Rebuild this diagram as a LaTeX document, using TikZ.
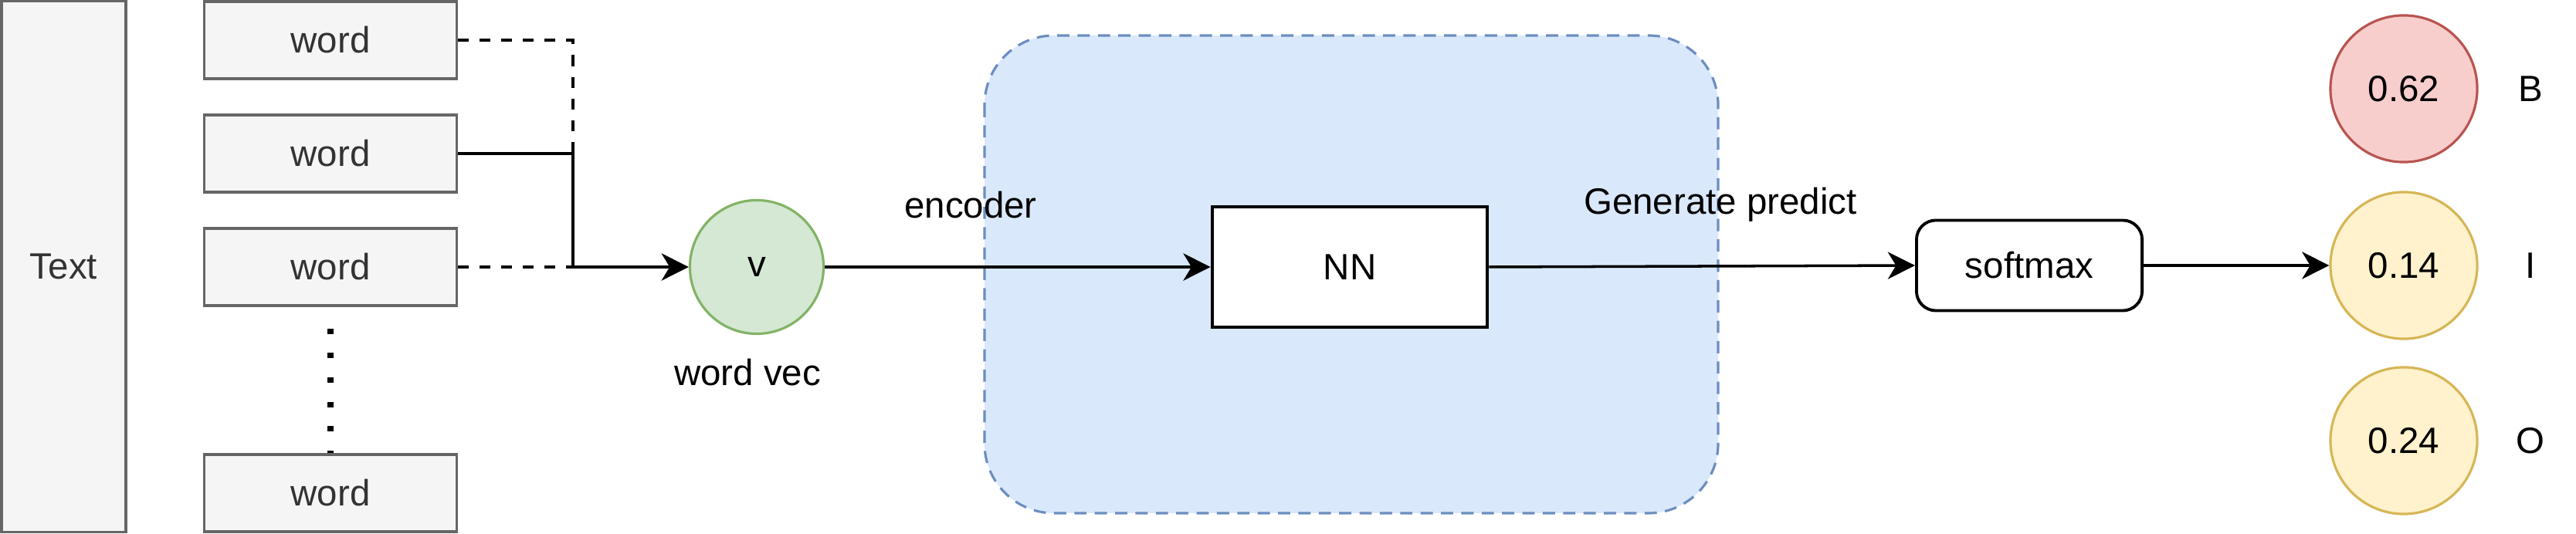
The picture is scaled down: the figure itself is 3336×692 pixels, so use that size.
\documentclass[tikz,border=0pt]{standalone}
\usepackage{fontspec}
\setmainfont{Liberation Sans}
\usetikzlibrary{arrows.meta}
\definecolor{greyfill}{HTML}{F5F5F5}
\definecolor{greyline}{HTML}{666666}
\definecolor{greytext}{HTML}{333333}
\definecolor{bluefill}{HTML}{DAE8FC}
\definecolor{blueline}{HTML}{6C8EBF}
\definecolor{greenfill}{HTML}{D5E8D4}
\definecolor{greenline}{HTML}{82B366}
\definecolor{redfill}{HTML}{F8CECC}
\definecolor{redline}{HTML}{B85450}
\definecolor{yellowfill}{HTML}{FFF2CC}
\definecolor{yellowline}{HTML}{D6B656}
\begin{document}
\begin{tikzpicture}[x=0.01cm, y=-0.01cm, >={Stealth[length=10pt,width=10pt,inset=3pt]},
  font=\fontsize{13.5}{16}\selectfont,
  wordbox/.style={draw=greyline, fill=greyfill, text=greytext, line width=0.9pt,
    minimum width=3.26cm, minimum height=1cm, inner sep=0pt},
  prob/.style={circle, line width=0.9pt, minimum size=1.9cm, inner sep=0pt},
  flow/.style={line width=1pt}]
\useasboundingbox (0,0) rectangle (3336,692);
% Input
\node[wordbox, minimum width=1.61cm, minimum height=6.87cm] (text) at (82.5,345.5) {Text};
\node[wordbox] (w1) at (428,52) {word};
\node[wordbox] (w2) at (428,199) {word};
\node[wordbox] (w3) at (428,346) {word};
\node[wordbox] (w4) at (428,639) {word};
\draw[line width=2pt, dash pattern=on 2pt off 7pt, shorten <=0.28cm] (w3.south) -- (w4.north);
% Word vector
\coordinate (vin) at (742,346);
\node[circle, draw=greenline, fill=greenfill, line width=0.9pt, minimum size=1.73cm, inner sep=0pt] (v) at (980,346) {v};
\node (vlab) at (968,483) {word vec};
\draw[flow, dash pattern=on 4pt off 4pt] (w1.east) -| (vin);
\draw[flow, dash pattern=on 4pt off 4pt] (w3.east) -- (vin);
\draw[flow] (w2.east) -| (vin);
\draw[flow, ->] (vin) -- (v);
% Encoder
\draw[blueline, fill=bluefill, line width=0.9pt, dash pattern=on 4.5pt off 3pt, rounded corners=0.9cm]
  (1275,46) rectangle (2225,665);
\node[draw, fill=white, line width=1.3pt, minimum width=3.56cm, minimum height=1.56cm] (nn) at (1748,346) {NN};
\node (enc) at (1257,266) {encoder};
\draw[flow, ->] (v) -- (nn);
% Prediction
\node[draw, rounded corners=0.25cm, line width=1.1pt, minimum width=2.92cm, minimum height=1.17cm] (soft) at (2628,344) {softmax};
\node (gen) at (2228,265) {Generate predict};
\draw[flow, ->] (nn.east) -- (soft.west);
% Outputs
\node[prob, draw=redline, fill=redfill] (pb) at (3113,115) {0.62};
\node[prob, draw=yellowline, fill=yellowfill] (pi) at (3113,344) {0.14};
\node[prob, draw=yellowline, fill=yellowfill] (po) at (3113,571) {0.24};
\node (lb) at (3277,115) {B};
\node (li) at (3277,344) {I};
\node (lo) at (3277,571) {O};
\draw[flow, ->] (soft) -- (pi);
\end{tikzpicture}
\end{document}
